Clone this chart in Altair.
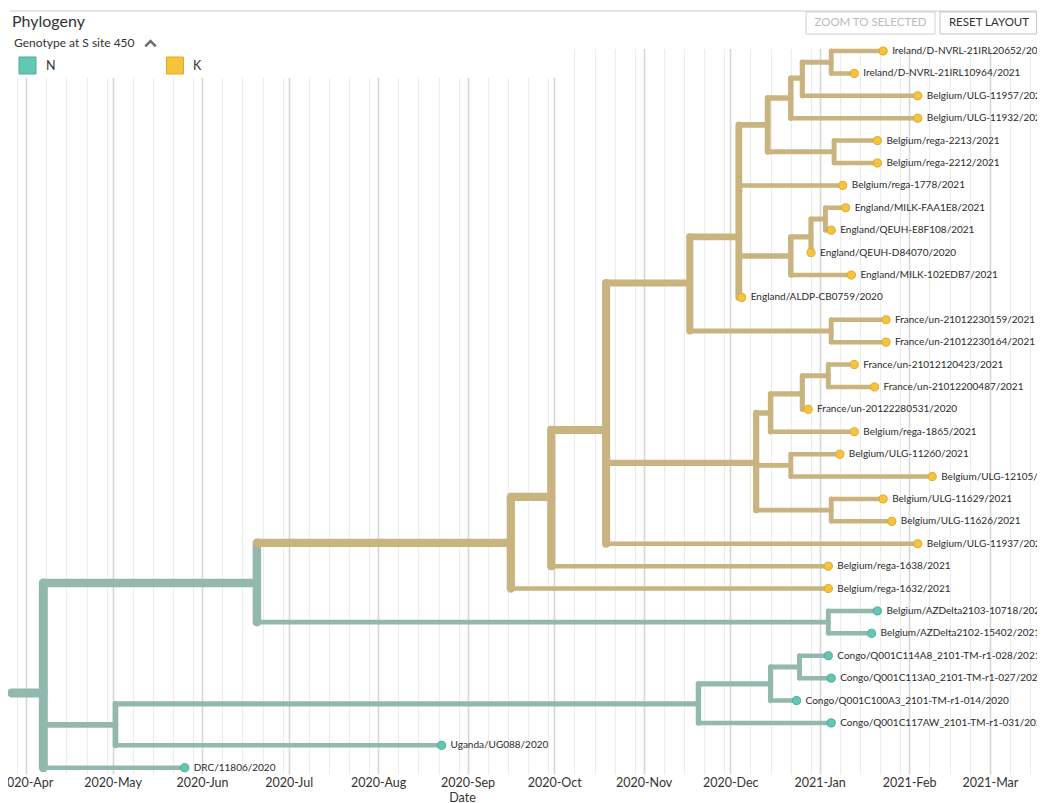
import altair as alt
import pandas as pd

# ---------------- data ----------------
tip_names = [
    "Ireland/D-NVRL-21IRL20652/2021", "Ireland/D-NVRL-21IRL10964/2021",
    "Belgium/ULG-11957/2021", "Belgium/ULG-11932/2021",
    "Belgium/rega-2213/2021", "Belgium/rega-2212/2021", "Belgium/rega-1778/2021",
    "England/MILK-FAA1E8/2021", "England/QEUH-E8F108/2021", "England/QEUH-D84070/2020",
    "England/MILK-102EDB7/2021", "England/ALDP-CB0759/2020",
    "France/un-21012230159/2021", "France/un-21012230164/2021",
    "France/un-21012120423/2021", "France/un-21012200487/2021", "France/un-20122280531/2020",
    "Belgium/rega-1865/2021", "Belgium/ULG-11260/2021", "Belgium/ULG-12105/2021",
    "Belgium/ULG-11629/2021", "Belgium/ULG-11626/2021", "Belgium/ULG-11937/2021",
    "Belgium/rega-1638/2021", "Belgium/rega-1632/2021",
    "Belgium/AZDelta2103-10718/2021", "Belgium/AZDelta2102-15402/2021",
    "Congo/Q001C114A8_2101-TM-r1-028/2021", "Congo/Q001C113A0_2101-TM-r1-027/2021",
    "Congo/Q001C100A3_2101-TM-r1-014/2020", "Congo/Q001C117AW_2101-TM-r1-031/2021",
    "Uganda/UG088/2020", "DRC/11806/2020",
]
tip_dates = [
    "2021-01-23", "2021-01-13", "2021-02-04", "2021-02-04", "2021-01-21", "2021-01-21",
    "2021-01-09", "2021-01-10", "2021-01-05", "2020-12-29", "2021-01-12", "2020-12-05",
    "2021-01-24", "2021-01-24", "2021-01-13", "2021-01-20", "2020-12-28", "2021-01-13",
    "2021-01-08", "2021-02-09", "2021-01-23", "2021-01-26", "2021-02-04", "2021-01-04",
    "2021-01-04", "2021-01-21", "2021-01-19", "2021-01-04", "2021-01-05", "2020-12-24",
    "2021-01-05", "2020-08-23", "2020-05-26",
]
tip_rows = [1, 2, 3, 4, 5, 6, 7, 8, 9, 10, 11, 12, 13, 14, 15, 16, 17, 18, 19, 20,
            21, 22, 23, 24, 25, 26, 27, 28, 29, 30, 31, 32, 33]
tip_parents = ["IRL", "IRL", "T3", "T2", "RP", "RP", "K4", "E3", "E3", "E2", "E1", "K4",
               "FP", "FP", "F3", "F3", "F2", "F1", "U1", "U1", "U2", "U2", "K2", "K1",
               "K0", "AZ", "AZ", "C2", "C2", "C1", "B1", "B", "root"]
tip_genotypes = ["K", "K", "K", "K", "K", "K", "K", "K", "K", "K", "K", "K", "K", "K",
                 "K", "K", "K", "K", "K", "K", "K", "K", "K", "K", "K",
                 "N", "N", "N", "N", "N", "N", "N", "N"]

node_ids = ["root", "A", "K0", "K1", "K2", "K3", "K4", "T1", "T2", "T3", "IRL", "RP",
            "E1", "E2", "E3", "FP", "F0", "F1", "F2", "F3", "U1", "U2", "AZ",
            "B", "B1", "C1", "C2"]
node_parents = [None, "root", "A", "K0", "K1", "K2", "K3", "K4", "T1", "T2", "T3", "T1",
                "K4", "E1", "E2", "K3", "K2", "F0", "F1", "F2", "F0", "F0", "A",
                "root", "B", "B1", "C1"]
node_dates = ["2020-04-07", "2020-06-20", "2020-09-16", "2020-09-30", "2020-10-19",
              "2020-11-17", "2020-12-04", "2020-12-14", "2020-12-22", "2020-12-26",
              "2021-01-05", "2021-01-06", "2020-12-22", "2020-12-29", "2021-01-03",
              "2021-01-05", "2020-12-10", "2020-12-15", "2020-12-26", "2021-01-04",
              "2020-12-22", "2021-01-05", "2021-01-04", "2020-05-02", "2020-11-20",
              "2020-12-15", "2020-12-25"]
node_rows = [29.66, 24.75, 22.96, 20.91, 17.92, 11.36, 9.30, 4.30, 3.10, 2.21, 1.5, 5.5,
             10.15, 9.30, 8.5, 13.5, 19.39, 17.16, 16.31, 15.5, 19.5, 21.5, 26.5,
             31.09, 30.15, 29.26, 28.5]
node_genotypes = ["N", "N", "K", "K", "K", "K", "K", "K", "K", "K", "K", "K",
                  "K", "K", "K", "K", "K", "K", "K", "K", "K", "K", "N",
                  "N", "N", "N", "N"]
root_stem_start = "2020-03-27"

genotype_domain = ["N", "K"]
legend_labels = ["N", "K"]

# ---------------- tree tables ----------------
all_ids = tip_names + node_ids
all_parents = tip_parents + node_parents
all_dates = tip_dates + node_dates
all_rows = tip_rows + node_rows
all_geno = tip_genotypes + node_genotypes
date_of = dict(zip(all_ids, all_dates))
row_of = dict(zip(all_ids, all_rows))

children = {}
for cid, p in zip(all_ids, all_parents):
    if p is not None:
        children.setdefault(p, []).append(cid)


def ntips(n):
    if n not in children:
        return 1
    return sum(ntips(c) for c in children[n])


horiz = pd.DataFrame({
    "x": [date_of[p] if p is not None else root_stem_start for p in all_parents],
    "x2": all_dates,
    "y": all_rows,
    "genotype": all_geno,
    "ntips": [ntips(n) for n in all_ids],
})
# draw internal branches first, then tips
horiz = pd.concat([horiz.iloc[len(tip_names):], horiz.iloc[:len(tip_names)]])

vert = pd.DataFrame({
    "x": node_dates,
    "y": [min(row_of[c] for c in children[n]) for n in node_ids],
    "y2": [max(row_of[c] for c in children[n]) for n in node_ids],
    "genotype": node_genotypes,
    "ntips": [ntips(n) for n in node_ids],
})

tips = pd.DataFrame({"name": tip_names, "date": tip_dates, "row": tip_rows,
                     "genotype": tip_genotypes})

# ---------------- scales / axis ----------------
W, H = 1029, 732
FONT = "Lato"

xscale = alt.Scale(
    type="utc",
    domain=[alt.DateTime(year=2020, month=3, date=25, hours=18, minutes=18, utc=True),
            alt.DateTime(year=2021, month=3, date=17, hours=7, minutes=26, utc=True)],
    nice=False,
)
yscale = alt.Scale(domain=[0.598, 33.28], reverse=True, zero=False, nice=False)

xaxis = alt.Axis(
    tickCount=alt.TimeIntervalStep(interval="day", step=7),
    labelExpr="utcdate(datum.value) === 1 ? utcFormat(datum.value, '%Y-%b') : ''",
    labelOverlap=False,
    labelFont=FONT, labelFontSize=12.5, labelColor="#333333", labelPadding=2,
    ticks=False, tickSize=0, domain=False,
    grid=True,
    gridColor={"condition": {"test": "utcdate(datum.value) === 1", "value": "#d6d6d6"},
               "value": "#ececec"},
    gridWidth={"condition": {"test": "utcdate(datum.value) === 1", "value": 1.6},
               "value": 1.1},
    title="Date", titleFont=FONT, titleFontSize=12.5, titleFontWeight="normal",
    titleColor="#333333", titleX=454, titleY=23, titleBaseline="middle",
    titleAlign="center",
)


def X(field):
    return alt.X(field, type="temporal", scale=xscale, axis=xaxis)


branch_color = alt.Color("genotype:N", scale=alt.Scale(domain=genotype_domain,
                         range=["#93b8ad", "#c9b480"]), legend=None)
branch_width = alt.StrokeWidth("ntips:Q", scale=alt.Scale(type="sqrt", domain=[1, 33],
                               range=[4.5, 9]), legend=None)
dot_fill = alt.Fill("genotype:N", scale=alt.Scale(domain=genotype_domain,
                    range=["#63c8b3", "#f6c43c"]), legend=None)
dot_stroke = alt.Stroke("genotype:N", scale=alt.Scale(domain=genotype_domain,
                        range=["#4eab98", "#e0a82a"]), legend=None)

one = pd.DataFrame({"genotype": ["N"]})

# white patches hiding the grid behind the header/legend
cover = alt.Chart(one).mark_rect(color="white").encode(
    x=alt.value(0), x2=alt.value(560), y=alt.value(0), y2=alt.value(36))
cover2 = alt.Chart(one).mark_rect(color="white").encode(
    x=alt.value(0), x2=alt.value(W), y=alt.value(0), y2=alt.value(7))

verticals = alt.Chart(vert).mark_rule(strokeCap="round").encode(
    x=X("x"), y=alt.Y("y:Q", scale=yscale, axis=None), y2="y2:Q",
    color=branch_color, strokeWidth=branch_width)

horizontals = alt.Chart(horiz).mark_rule(strokeCap="round").encode(
    x=X("x"), x2="x2:T", y=alt.Y("y:Q", scale=yscale, axis=None),
    color=branch_color, strokeWidth=branch_width)

dots = alt.Chart(tips).mark_circle(size=66, opacity=1, strokeWidth=1).encode(
    x=X("date"), y=alt.Y("row:Q", scale=yscale, axis=None),
    fill=dot_fill, stroke=dot_stroke)

labels = alt.Chart(tips).mark_text(align="left", baseline="middle", dx=9, font=FONT,
                                   fontSize=10, color="#2a2a2a", clip=True).encode(
    x=X("date"), y=alt.Y("row:Q", scale=yscale, axis=None), text="name:N")

# ---------------- header ----------------
top_line = alt.Chart(one).mark_rule(color="#dddddd", strokeWidth=1.5).encode(
    x=alt.value(2), x2=alt.value(W), y=alt.value(-31))
title = alt.Chart(one).mark_text(text="Phylogeny", align="left", baseline="middle",
                                 font=FONT, fontSize=16, color="#333333").encode(
    x=alt.value(4), y=alt.value(-20))
subtitle = alt.Chart(one).mark_text(text="Genotype at S site 450", align="left",
                                    baseline="middle", font=FONT, fontSize=12,
                                    color="#333333").encode(
    x=alt.value(6), y=alt.value(1))
chevron = alt.Chart(one).mark_point(shape="M-1,0.55L0,-0.45L1,0.55", filled=False,
                                    size=110, strokeWidth=2.6, color="#333333").encode(
    x=alt.value(142.5), y=alt.value(1.5))

leg_rows = pd.DataFrame({"genotype": legend_labels})
leg_N_sq = alt.Chart(leg_rows).transform_filter("datum.genotype === 'N'").mark_square(
    size=289, opacity=1, strokeWidth=1).encode(
    x=alt.value(19.5), y=alt.value(23.5), fill=dot_fill, stroke=dot_stroke)
leg_K_sq = alt.Chart(leg_rows).transform_filter("datum.genotype === 'K'").mark_square(
    size=289, opacity=1, strokeWidth=1).encode(
    x=alt.value(167), y=alt.value(23.5), fill=dot_fill, stroke=dot_stroke)
leg_N_tx = alt.Chart(leg_rows).transform_filter("datum.genotype === 'N'").mark_text(
    align="left", baseline="middle", font=FONT, fontSize=12.5, color="#333333").encode(
    x=alt.value(38), y=alt.value(23.5), text="genotype:N")
leg_K_tx = alt.Chart(leg_rows).transform_filter("datum.genotype === 'K'").mark_text(
    align="left", baseline="middle", font=FONT, fontSize=12.5, color="#333333").encode(
    x=alt.value(185), y=alt.value(23.5), text="genotype:N")

btn1 = alt.Chart(one).mark_rect(fill="white", stroke="#d0d0d0", strokeWidth=1).encode(
    x=alt.value(798), x2=alt.value(927), y=alt.value(-30), y2=alt.value(-8))
btn2 = alt.Chart(one).mark_rect(fill="white", stroke="#c4c4c4", strokeWidth=1).encode(
    x=alt.value(932), x2=alt.value(W - 0.5), y=alt.value(-30), y2=alt.value(-8))
btn1_tx = alt.Chart(one).mark_text(text="ZOOM TO SELECTED", align="center",
                                   baseline="middle", font=FONT, fontSize=11.5,
                                   color="#bbbbbb").encode(
    x=alt.value(862.5), y=alt.value(-19))
btn2_tx = alt.Chart(one).mark_text(text="RESET LAYOUT", align="center",
                                   baseline="middle", font=FONT, fontSize=11.5,
                                   color="#333333").encode(
    x=alt.value(981), y=alt.value(-19))

chart = alt.layer(
    cover, cover2, verticals, horizontals, dots, labels,
    top_line, title, subtitle, chevron,
    leg_N_sq, leg_K_sq, leg_N_tx, leg_K_tx,
    btn1, btn2, btn1_tx, btn2_tx,
).properties(
    width=W, height=H,
    autosize=alt.AutoSizeParams(type="none"),
    padding={"left": 0, "top": 34, "right": 0, "bottom": 29},
    background="white",
).configure_view(stroke=None)

chart.save("out.html", embed_options={"renderer": "svg", "actions": False})
